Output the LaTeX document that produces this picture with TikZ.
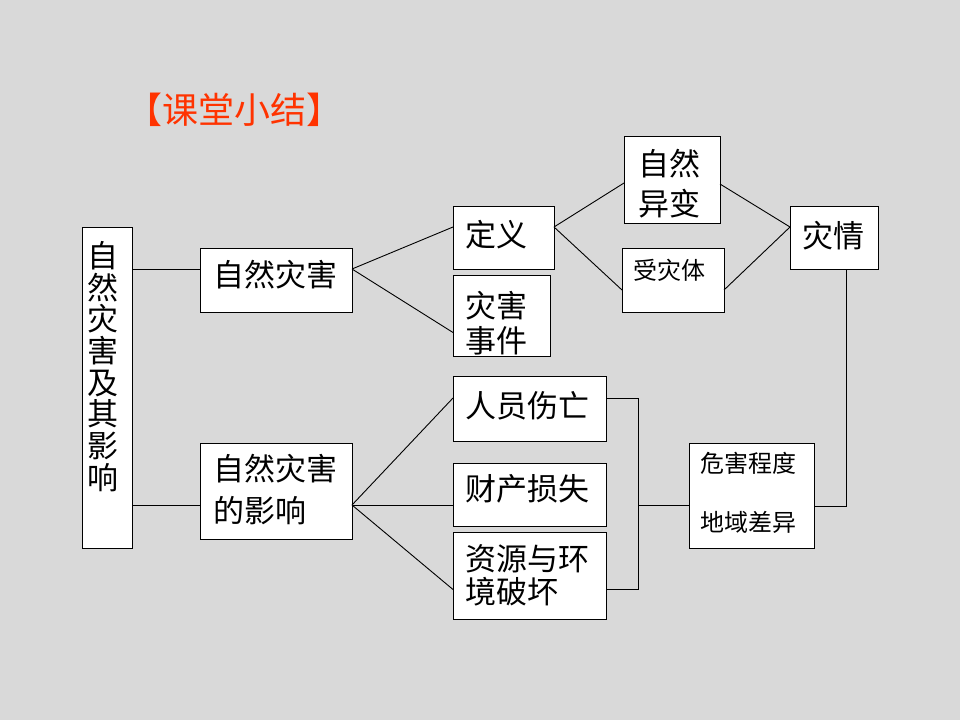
\documentclass[tikz,border=0pt]{standalone}
\usepackage{fontspec}
\newfontfamily\cjk{Noto Sans CJK SC}
\usetikzlibrary{calc}
\definecolor{bg}{HTML}{D9D9D9}
\definecolor{titlered}{HTML}{FF3300}
\tikzset{
  box/.style={draw=black, fill=white, line width=1pt, inner sep=0pt, outer sep=0pt, anchor=north west},
  big/.style={font=\cjk\fontsize{31}{40}\selectfont, inner sep=0pt, anchor=north west, align=left},
  small/.style={font=\cjk\fontsize{24}{30}\selectfont, inner sep=0pt, anchor=north west, align=left},
  link/.style={draw=black, line width=0.9pt},
}
\begin{document}
\begin{tikzpicture}[x=1pt,y=-1pt]
\fill[bg] (0,0) rectangle (960,720);
\useasboundingbox (0,0) rectangle (960,720);

% title
\node[font=\cjk\fontsize{36}{40}\selectfont, text=titlered, inner sep=0pt] (title) at (234,110) {【课堂小结】};

% boxes
\node[box, minimum width=50pt, minimum height=321pt] (main) at (82,227) {};
\node[box, minimum width=152pt, minimum height=64pt] (zh) at (200,248) {};
\node[box, minimum width=152pt, minimum height=96pt] (yx) at (200,443) {};
\node[box, minimum width=101pt, minimum height=63pt] (dy) at (453,206) {};
\node[box, minimum width=97pt, minimum height=81pt] (sj) at (453,275) {};
\node[box, minimum width=96pt, minimum height=87pt] (yb) at (624,136) {};
\node[box, minimum width=102pt, minimum height=64pt] (szt) at (622,248) {};
\node[box, minimum width=88pt, minimum height=63pt] (zq) at (790,206) {};
\node[box, minimum width=153pt, minimum height=65pt] (ry) at (453,376) {};
\node[box, minimum width=153pt, minimum height=63pt] (cc) at (453,463) {};
\node[box, minimum width=153pt, minimum height=87pt] (zy) at (453,532) {};
\node[box, minimum width=125pt, minimum height=105pt] (wh) at (689,443) {};

% texts
\node[font=\cjk\fontsize{31}{31.7}\selectfont, inner sep=0pt, anchor=north, align=center] (tmain) at (103,241) {自\\然\\灾\\害\\及\\其\\影\\响};
\node[big] (tzh) at (213,260) {自然灾害};
\node[big, font=\cjk\fontsize{31}{41.7}\selectfont] (tyx) at (213,454) {自然灾害\\的影响};
\node[big] (tdy) at (465,220) {定义};
\node[big, font=\cjk\fontsize{31}{35}\selectfont] (tsj) at (465,291) {灾害\\事件};
\node[big, font=\cjk\fontsize{31}{40}\selectfont] (tyb) at (638,149) {自然\\异变};
\node[small] (tszt) at (633,259) {受灾体};
\node[big] (tzq) at (802,221) {灾情};
\node[big] (try) at (465,391) {人员伤亡};
\node[big] (tcc) at (465,474) {财产损失};
\node[big, font=\cjk\fontsize{31}{33.3}\selectfont] (tzy) at (465,544) {资源与环\\境破坏};
\node[small, font=\cjk\fontsize{24}{58.7}\selectfont] (twh) at (700,452) {危害程度\\地域差异};

% connector points
\coordinate (zhL) at ($(zh.north west)+(0,21)$);
\coordinate (zhR) at ($(zh.north east)+(0,21)$);
\coordinate (yxL) at ($(yx.north west)+(0,62)$);
\coordinate (yxR) at ($(yx.north east)+(0,62)$);
\coordinate (dyL) at ($(dy.north west)+(0,21)$);
\coordinate (dyR) at ($(dy.north east)+(0,21)$);
\coordinate (sjL) at ($(sj.north west)+(0,57.5)$);
\coordinate (ybL) at ($(yb.north west)+(0,47)$);
\coordinate (ybR) at ($(yb.north east)+(0,48)$);
\coordinate (sztL) at ($(szt.north west)+(0,42)$);
\coordinate (sztR) at ($(szt.north east)+(0,42)$);
\coordinate (zqL) at ($(zq.north west)+(0,21)$);
\coordinate (zqB) at ($(zq.south)+(12.7,0)$);
\coordinate (whR) at ($(wh.north east)+(0,63.7)$);
\coordinate (whL) at ($(wh.north west)+(0,62)$);
\coordinate (ryL) at ($(ry.north west)+(0,22)$);
\coordinate (ryR) at ($(ry.north east)+(0,22)$);
\coordinate (ccL) at ($(cc.north west)+(0,42)$);
\coordinate (zyL) at ($(zy.north west)+(0,57.5)$);
\coordinate (zyR) at ($(zy.north east)+(0,57.5)$);
\coordinate (brT) at ($(ryR)+(32.5,0)$);

% connectors
\draw[link] (main.east |- zhL) -- (zhL);
\draw[link] (main.east |- yxL) -- (yxL);
\draw[link] (zhR) -- (dyL);
\draw[link] (zhR) -- (sjL);
\draw[link] (dyR) -- (ybL);
\draw[link] (dyR) -- (sztL);
\draw[link] (ybR) -- (zqL);
\draw[link] (sztR) -- (zqL);
\draw[link] (zqB) -- (zqB |- whR) -- (whR);
\draw[link] (yxR) -- (ryL);
\draw[link] (yxR) -- (ccL);
\draw[link] (yxR) -- (zyL);
\draw[link] (ryR) -- (brT) -- (brT |- zyR) -- (zyR);
\draw[link] (brT |- whL) -- (whL);
\end{tikzpicture}
\end{document}
